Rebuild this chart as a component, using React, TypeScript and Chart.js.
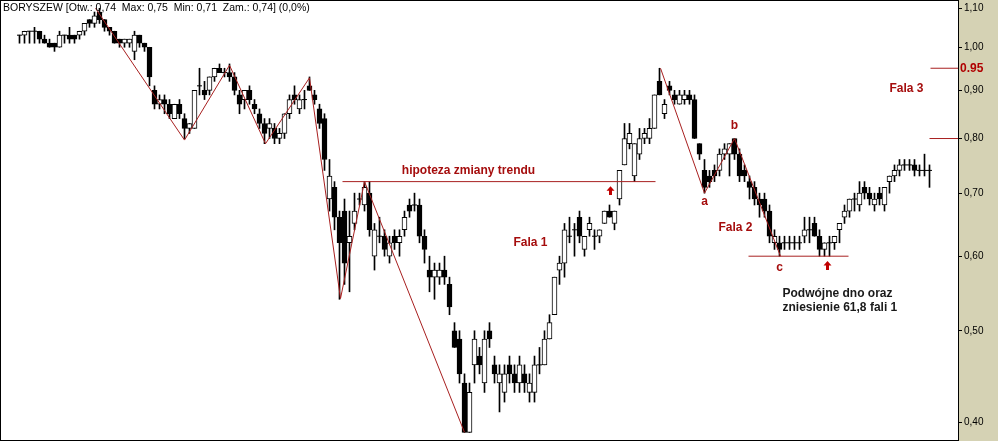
import { useEffect, useRef } from "react";
import Chart from "chart.js/auto";

// BORYSZEW daily candles, oldest first (PLN)
const opens = [
  1.03, 1.03, 1.04, 1.04, 1.04, 1.02, 1.01, 1.01, 1.0, 1.03,
  1.03, 1.03, 1.03, 1.04, 1.07, 1.06, 1.09, 1.07, 1.05, 1.04,
  1.02, 1.01, 1.01, 0.99, 1.03, 1.01, 1.0, 0.9, 0.87, 0.88,
  0.87, 0.84, 0.87, 0.84, 0.82, 0.82, 0.91, 0.9, 0.9, 0.93,
  0.95, 0.94, 0.94, 0.93, 0.89, 0.88, 0.9, 0.87, 0.85, 0.83,
  0.82, 0.82, 0.8, 0.81, 0.85, 0.89, 0.86, 0.88, 0.91, 0.89,
  0.86, 0.84, 0.69, 0.71, 0.66, 0.67, 0.62, 0.65, 0.69, 0.68,
  0.7, 0.6, 0.63, 0.63, 0.6, 0.63, 0.62, 0.64, 0.68, 0.68,
  0.68, 0.63, 0.58, 0.57, 0.57, 0.58, 0.56, 0.5, 0.49, 0.44,
  0.39, 0.46, 0.47, 0.44, 0.5, 0.46, 0.44, 0.43, 0.46, 0.45,
  0.44, 0.45, 0.43, 0.43, 0.46, 0.46, 0.49, 0.52, 0.58, 0.59,
  0.63, 0.64, 0.66, 0.61, 0.64, 0.63, 0.63, 0.65, 0.67, 0.65,
  0.69, 0.75, 0.79, 0.73, 0.77, 0.8, 0.8, 0.82, 0.92, 0.85,
  0.91, 0.89, 0.87, 0.88, 0.89, 0.88, 0.79, 0.74, 0.73, 0.74,
  0.74, 0.77, 0.77, 0.8, 0.77, 0.74, 0.72, 0.71, 0.69, 0.69,
  0.67, 0.62, 0.62, 0.62, 0.62, 0.62, 0.62, 0.63, 0.64, 0.65,
  0.63, 0.61, 0.62, 0.62, 0.64, 0.66, 0.67, 0.69, 0.68, 0.71,
  0.7, 0.68, 0.7, 0.68, 0.72, 0.73, 0.74, 0.75, 0.75, 0.75,
  0.74, 0.74, 0.74,
];
const highs = [
  1.03, 1.04, 1.04, 1.05, 1.04, 1.03, 1.02, 1.01, 1.04, 1.03,
  1.05, 1.03, 1.04, 1.06, 1.07, 1.09, 1.1, 1.07, 1.05, 1.04,
  1.02, 1.02, 1.02, 1.04, 1.03, 1.01, 1.0, 0.91, 0.89, 0.89,
  0.88, 0.87, 0.88, 0.85, 0.83, 0.9, 0.95, 0.92, 0.93, 0.95,
  0.96, 0.95, 0.96, 0.94, 0.9, 0.9, 0.91, 0.88, 0.86, 0.84,
  0.84, 0.83, 0.82, 0.85, 0.89, 0.91, 0.89, 0.9, 0.93, 0.9,
  0.87, 0.85, 0.76, 0.72, 0.67, 0.69, 0.67, 0.7, 0.7, 0.72,
  0.72, 0.65, 0.66, 0.64, 0.63, 0.64, 0.64, 0.67, 0.69, 0.7,
  0.69, 0.64, 0.6, 0.59, 0.59, 0.6, 0.57, 0.51, 0.5, 0.45,
  0.44, 0.5, 0.48, 0.5, 0.51, 0.47, 0.46, 0.46, 0.47, 0.46,
  0.47, 0.46, 0.45, 0.47, 0.48, 0.5, 0.52, 0.57, 0.6, 0.65,
  0.66, 0.65, 0.67, 0.63, 0.66, 0.64, 0.64, 0.67, 0.68, 0.67,
  0.74, 0.83, 0.83, 0.79, 0.82, 0.82, 0.84, 0.89, 0.95, 0.88,
  0.92, 0.9, 0.9, 0.9, 0.9, 0.89, 0.79, 0.76, 0.74, 0.75,
  0.78, 0.79, 0.79, 0.8, 0.78, 0.75, 0.73, 0.72, 0.7, 0.7,
  0.68, 0.64, 0.63, 0.63, 0.63, 0.63, 0.63, 0.66, 0.66, 0.66,
  0.64, 0.62, 0.63, 0.63, 0.65, 0.68, 0.69, 0.7, 0.72, 0.72,
  0.71, 0.7, 0.71, 0.71, 0.73, 0.75, 0.76, 0.76, 0.76, 0.76,
  0.75, 0.77, 0.75,
];
const lows = [
  1.01, 1.01, 1.01, 1.01, 1.01, 1.01, 1.0, 0.99, 1.0, 1.01,
  1.01, 1.01, 1.02, 1.03, 1.05, 1.05, 1.06, 1.04, 1.03, 1.01,
  1.0, 1.0, 1.0, 0.97, 1.0, 0.99, 0.91, 0.86, 0.86, 0.85,
  0.84, 0.84, 0.84, 0.8, 0.81, 0.82, 0.89, 0.88, 0.89, 0.92,
  0.94, 0.93, 0.92, 0.89, 0.85, 0.86, 0.87, 0.85, 0.82, 0.79,
  0.8, 0.79, 0.79, 0.8, 0.84, 0.87, 0.85, 0.86, 0.9, 0.87,
  0.82, 0.74, 0.67, 0.64, 0.54, 0.56, 0.55, 0.64, 0.68, 0.67,
  0.63, 0.58, 0.62, 0.6, 0.59, 0.61, 0.6, 0.63, 0.66, 0.67,
  0.62, 0.59, 0.55, 0.54, 0.56, 0.56, 0.52, 0.48, 0.44, 0.39,
  0.39, 0.44, 0.45, 0.43, 0.48, 0.44, 0.41, 0.42, 0.44, 0.43,
  0.43, 0.43, 0.42, 0.42, 0.45, 0.46, 0.49, 0.52, 0.56, 0.57,
  0.62, 0.6, 0.62, 0.6, 0.63, 0.61, 0.62, 0.65, 0.66, 0.64,
  0.68, 0.75, 0.78, 0.72, 0.76, 0.79, 0.79, 0.82, 0.89, 0.84,
  0.89, 0.87, 0.87, 0.87, 0.87, 0.8, 0.76, 0.7, 0.71, 0.72,
  0.73, 0.76, 0.73, 0.76, 0.72, 0.72, 0.69, 0.68, 0.66, 0.66,
  0.62, 0.61, 0.6, 0.61, 0.61, 0.61, 0.61, 0.62, 0.62, 0.63,
  0.6, 0.6, 0.6, 0.61, 0.62, 0.65, 0.66, 0.67, 0.67, 0.69,
  0.68, 0.67, 0.68, 0.67, 0.7, 0.72, 0.73, 0.74, 0.74, 0.73,
  0.73, 0.73, 0.71,
];
const closes = [
  1.03, 1.04, 1.04, 1.04, 1.02, 1.01, 1.0, 1.0, 1.03, 1.03,
  1.02, 1.02, 1.04, 1.06, 1.06, 1.08, 1.07, 1.05, 1.04, 1.01,
  1.01, 1.02, 1.02, 1.03, 1.01, 1.0, 0.93, 0.87, 0.88, 0.87,
  0.85, 0.87, 0.85, 0.82, 0.83, 0.9, 0.91, 0.89, 0.93, 0.95,
  0.94, 0.94, 0.93, 0.9, 0.87, 0.9, 0.88, 0.86, 0.83, 0.81,
  0.83, 0.8, 0.81, 0.85, 0.88, 0.88, 0.88, 0.88, 0.9, 0.88,
  0.83, 0.76, 0.73, 0.66, 0.62, 0.59, 0.63, 0.67, 0.69, 0.71,
  0.64, 0.64, 0.63, 0.61, 0.62, 0.62, 0.63, 0.66, 0.67, 0.68,
  0.63, 0.61, 0.57, 0.58, 0.58, 0.57, 0.53, 0.48, 0.45, 0.39,
  0.43, 0.49, 0.46, 0.49, 0.49, 0.45, 0.45, 0.45, 0.45, 0.44,
  0.46, 0.44, 0.44, 0.46, 0.46, 0.49, 0.51, 0.57, 0.59, 0.64,
  0.63, 0.64, 0.63, 0.63, 0.65, 0.63, 0.64, 0.67, 0.66, 0.67,
  0.74, 0.8, 0.81, 0.79, 0.8, 0.81, 0.82, 0.89, 0.89, 0.87,
  0.9, 0.88, 0.89, 0.89, 0.88, 0.8, 0.77, 0.71, 0.72, 0.73,
  0.77, 0.78, 0.79, 0.77, 0.73, 0.73, 0.71, 0.69, 0.68, 0.67,
  0.63, 0.63, 0.61, 0.62, 0.62, 0.62, 0.62, 0.64, 0.64, 0.63,
  0.61, 0.62, 0.62, 0.63, 0.65, 0.67, 0.69, 0.69, 0.7, 0.7,
  0.69, 0.69, 0.69, 0.71, 0.73, 0.74, 0.75, 0.75, 0.75, 0.74,
  0.74, 0.74, 0.74,
];

const priceTicks = [0.4, 0.5, 0.6, 0.7, 0.8, 0.9, 1.0, 1.1];

// hand-drawn wave lines (candle index, price)
const impulseIdx = [15.2, 33, 42, 49.2, 58, 64.2, 69, 89];
const impulsePrice = [1.1, 0.797, 0.957, 0.79, 0.928, 0.541, 0.72, 0.39];
const abcIdx = [128.2, 137, 143, 152.2];
const abcPrice = [0.95, 0.7, 0.8, 0.6];

// horizontal levels: [fromIdx, toIdx, price]
const levels = [
  [64.6, 127.2, 0.72],
  [145.8, 165.8, 0.6],
  [182, 190, 0.8],
  [182.2, 190, 0.95],
];

const arrowIdx = [118.1, 161.4];
const arrowTip = [0.712, 0.593];
const arrowBase = [0.697, 0.58];

const notes = [
  { text: "hipoteza zmiany trendu", x: 89.8, y: 0.74, align: "center", color: "#a50d0d" },
  { text: "Fala 1", x: 102.2, y: 0.62, align: "center", color: "#a50d0d" },
  { text: "a", x: 137, y: 0.685, align: "center", color: "#a50d0d" },
  { text: "b", x: 143, y: 0.826, align: "center", color: "#a50d0d" },
  { text: "c", x: 152, y: 0.583, align: "center", color: "#a50d0d" },
  { text: "Fala 2", x: 143.2, y: 0.643, align: "center", color: "#a50d0d" },
  { text: "Fala 3", x: 177.4, y: 0.903, align: "center", color: "#a50d0d" },
  { text: "Podwójne dno oraz", x: 152.6, y: 0.548, align: "left", color: "#1a1a1a" },
  { text: "zniesienie 61,8 fali 1", x: 152.6, y: 0.529, align: "left", color: "#1a1a1a" },
];

const title = "BORYSZEW [Otw.: 0,74  Max: 0,75  Min: 0,71  Zam.: 0,74] (0,0%)";

const RED = "#a82020";
const AXIS_BG = "#d5d2b4";
const FONT = "'Liberation Sans', Arial, sans-serif";

const paperPlugin = {
  id: "paper",
  beforeDraw(chart: any) {
    const { ctx, chartArea, width, height } = chart;
    ctx.save();
    ctx.fillStyle = "#fff";
    ctx.fillRect(0, 0, width, height);
    ctx.fillStyle = AXIS_BG;
    ctx.fillRect(chartArea.right, 0, width - chartArea.right, height);
    ctx.restore();
  },
  afterDraw(chart: any) {
    const { ctx, chartArea } = chart;
    const xs = chart.scales.x;
    const ys = chart.scales.y;
    ctx.save();

    // frame
    ctx.strokeStyle = "#000";
    ctx.lineWidth = 1;
    ctx.strokeRect(
      chartArea.left + 0.5,
      chartArea.top + 0.5,
      chartArea.right - chartArea.left,
      chartArea.bottom - chartArea.top
    );

    // title
    ctx.fillStyle = "#000";
    ctx.font = `10.5px ${FONT}`;
    ctx.textBaseline = "middle";
    ctx.textAlign = "left";
    ctx.fillText(title, 3, 8);

    // notes
    ctx.font = `bold 12px ${FONT}`;
    notes.forEach((n) => {
      ctx.fillStyle = n.color;
      ctx.textAlign = n.align as CanvasTextAlign;
      ctx.fillText(n.text, xs.getPixelForValue(n.x), ys.getPixelForValue(n.y));
    });

    // arrows
    ctx.fillStyle = "#c00000";
    arrowIdx.forEach((ai, k) => {
      const x = Math.round(xs.getPixelForValue(ai)) + 0.5;
      const top = ys.getPixelForValue(arrowTip[k]);
      const bot = ys.getPixelForValue(arrowBase[k]);
      ctx.beginPath();
      ctx.moveTo(x, top);
      ctx.lineTo(x + 4, top + 4.5);
      ctx.lineTo(x + 1.5, top + 4.5);
      ctx.lineTo(x + 1.5, bot);
      ctx.lineTo(x - 1.5, bot);
      ctx.lineTo(x - 1.5, top + 4.5);
      ctx.lineTo(x - 4, top + 4.5);
      ctx.closePath();
      ctx.fill();
    });

    // highlighted level in the axis
    ctx.fillStyle = "#b00000";
    ctx.font = `bold 12px ${FONT}`;
    ctx.textAlign = "left";
    ctx.fillText("0.95", chartArea.right + 2, ys.getPixelForValue(0.95));
    ctx.restore();
  },
};

const App = () => {
  const canvasRef = useRef<HTMLCanvasElement | null>(null);
  const chartRef = useRef<Chart | null>(null);

  useEffect(() => {
    document.body.style.margin = "0";
    if (!canvasRef.current) return;
    if (chartRef.current) chartRef.current.destroy();

    const idx = opens.map((_, i) => i);
    const bodyIdx = idx.filter((i) => opens[i] !== closes[i]);
    const dojiIdx = idx.filter((i) => opens[i] === closes[i]);

    const lineSet = (data: { x: number; y: number }[]) => ({
      type: "line" as const,
      data,
      borderColor: RED,
      borderWidth: 1,
      pointRadius: 0,
      tension: 0,
      order: 0,
    });

    chartRef.current = new Chart(canvasRef.current, {
      type: "bar",
      data: {
        datasets: [
          lineSet(impulseIdx.map((x, k) => ({ x, y: impulsePrice[k] }))),
          lineSet(abcIdx.map((x, k) => ({ x, y: abcPrice[k] }))),
          ...levels.map((l) =>
            lineSet([
              { x: l[0], y: l[2] },
              { x: l[1], y: l[2] },
            ])
          ),
          {
            type: "scatter" as const,
            data: dojiIdx.map((i) => ({ x: i, y: closes[i] })),
            pointStyle: "line",
            pointRadius: 2.5,
            borderColor: "#000",
            borderWidth: 1,
            order: 1,
          },
          {
            type: "bar" as const,
            data: bodyIdx.map((i) => ({ x: i, y: [opens[i], closes[i]] })) as any,
            backgroundColor: bodyIdx.map((i) => (closes[i] > opens[i] ? "#fff" : "#000")),
            borderColor: "#000",
            borderWidth: 1,
            borderSkipped: false,
            barThickness: 5,
            grouped: false,
            order: 2,
          },
          {
            type: "bar" as const,
            data: idx.map((i) => ({ x: i, y: [lows[i], highs[i]] })) as any,
            backgroundColor: "#000",
            borderWidth: 0,
            barThickness: 1,
            grouped: false,
            order: 3,
          },
        ],
      },
      options: {
        responsive: false,
        animation: false,
        layout: { autoPadding: false, padding: { left: 0, right: 0, top: 0, bottom: 1 } },
        plugins: { legend: { display: false }, tooltip: { enabled: false } },
        scales: {
          x: {
            type: "linear",
            display: false,
            offset: false,
            min: -3.9,
            max: 187.7,
          },
          y: {
            type: "logarithmic",
            position: "right",
            min: 0.3828,
            max: 1.1225,
            afterBuildTicks: (s: any) => {
              s.ticks = priceTicks.map((v) => ({ value: v }));
            },
            afterFit: (s: any) => {
              s.width = 40;
              s.paddingTop = 0;
              s.paddingBottom = 0;
            },
            border: { display: false },
            grid: { drawOnChartArea: false, drawTicks: true, tickLength: 4, color: "#000" },
            ticks: {
              color: "#000",
              padding: 2,
              font: { size: 10, family: FONT },
              callback: (v: any) => Number(v).toFixed(2).replace(".", ","),
            },
          },
        },
      },
      plugins: [paperPlugin],
    });

    return () => {
      if (chartRef.current) {
        chartRef.current.destroy();
        chartRef.current = null;
      }
    };
  }, []);

  return (
    <div style={{ width: 998, height: 441 }}>
      <canvas ref={canvasRef} width={998} height={441} />
    </div>
  );
};

export default App;
